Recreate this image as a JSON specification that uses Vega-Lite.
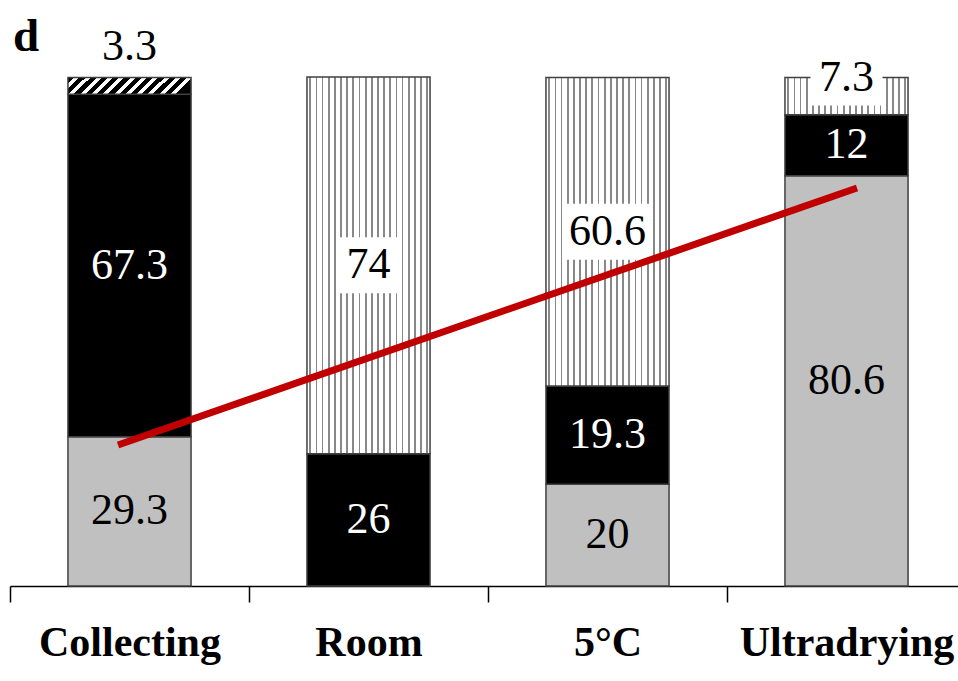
{
  "$schema": "https://vega.github.io/schema/vega-lite/v6.json",
  "width": 948,
  "height": 509,
  "autosize": {"type": "none"},
  "padding": {"left": 10, "top": 77, "right": 0, "bottom": 95},
  "background": "white",
  "config": {"view": {"stroke": null}, "font": "Liberation Serif"},
  "title": {"text": "d", "anchor": "start", "frame": "group", "orient": "top", "fontSize": 47, "font": "Liberation Serif", "fontWeight": "bold", "color": "#000", "dx": 3, "dy": 52, "offset": 16},
  "layer": [
    {
      "data": {"values": [
        {"cond": "Collecting", "kind": "gray", "value": 29.3},
        {"cond": "Collecting", "kind": "black", "value": 67.3},
        {"cond": "Collecting", "kind": "hatched", "value": 3.3},
        {"cond": "Room", "kind": "black", "value": 26},
        {"cond": "Room", "kind": "dotted", "value": 74},
        {"cond": "5°C", "kind": "gray", "value": 20},
        {"cond": "5°C", "kind": "black", "value": 19.3},
        {"cond": "5°C", "kind": "dotted", "value": 60.6},
        {"cond": "Ultradrying", "kind": "gray", "value": 80.6},
        {"cond": "Ultradrying", "kind": "black", "value": 12},
        {"cond": "Ultradrying", "kind": "dotted", "value": 7.3}
      ]},
      "transform": [
        {"calculate": "indexof(['gray','black','dotted','hatched'], datum.kind)", "as": "ord"},
        {"stack": "value", "groupby": ["cond"], "sort": [{"field": "ord", "order": "ascending"}], "as": ["y0", "y1"]},
        {"calculate": "datum.value < 5 ? datum.y1 + 6 : (datum.value < 10 ? datum.y1 : (datum.y0 + datum.y1) / 2)", "as": "ly"}
      ],
      "encoding": {
        "x": {"field": "cond", "type": "nominal", "sort": ["Collecting", "Room", "5°C", "Ultradrying"],
          "scale": {"paddingInner": 0.485, "paddingOuter": 0.2425, "range": [0, 956]},
          "axis": {"title": null, "labelAngle": 0, "domainColor": "#000", "domainWidth": 1.5, "tickColor": "#000", "tickWidth": 1.5, "tickSize": 16, "tickOffset": -119.5, "labelOffset": 119.5, "labelFont": "Liberation Serif", "labelFontSize": 42, "labelFontWeight": "bold", "labelColor": "#000", "labelPadding": 20, "labelOverlap": false, "labelBound": false, "labelFlush": false, "labelLimit": 0}}
      },
      "layer": [
        {
          "mark": {"type": "bar", "stroke": "#404040", "strokeWidth": 1.5},
          "encoding": {
            "y": {"field": "y0", "type": "quantitative", "scale": {"domain": [0, 100], "nice": false, "zero": true}, "axis": null},
            "y2": {"field": "y1"},
            "fill": {
              "condition": [
                {"test": "datum.kind === 'dotted'", "value": {"gradient": "linear", "x1": 0, "y1": 0, "x2": 1, "y2": 0, "stops": [
                  {"offset": 0, "color": "#fff"},
                  {"offset": 0.02, "color": "#fff"}, {"offset": 0.02, "color": "#888"}, {"offset": 0.034, "color": "#888"}, {"offset": 0.034, "color": "#fff"},
                  {"offset": 0.07, "color": "#fff"}, {"offset": 0.07, "color": "#888"}, {"offset": 0.084, "color": "#888"}, {"offset": 0.084, "color": "#fff"},
                  {"offset": 0.12, "color": "#fff"}, {"offset": 0.12, "color": "#888"}, {"offset": 0.134, "color": "#888"}, {"offset": 0.134, "color": "#fff"},
                  {"offset": 0.17, "color": "#fff"}, {"offset": 0.17, "color": "#888"}, {"offset": 0.184, "color": "#888"}, {"offset": 0.184, "color": "#fff"},
                  {"offset": 0.22, "color": "#fff"}, {"offset": 0.22, "color": "#888"}, {"offset": 0.234, "color": "#888"}, {"offset": 0.234, "color": "#fff"},
                  {"offset": 0.27, "color": "#fff"}, {"offset": 0.27, "color": "#888"}, {"offset": 0.284, "color": "#888"}, {"offset": 0.284, "color": "#fff"},
                  {"offset": 0.32, "color": "#fff"}, {"offset": 0.32, "color": "#888"}, {"offset": 0.334, "color": "#888"}, {"offset": 0.334, "color": "#fff"},
                  {"offset": 0.37, "color": "#fff"}, {"offset": 0.37, "color": "#888"}, {"offset": 0.384, "color": "#888"}, {"offset": 0.384, "color": "#fff"},
                  {"offset": 0.42, "color": "#fff"}, {"offset": 0.42, "color": "#888"}, {"offset": 0.434, "color": "#888"}, {"offset": 0.434, "color": "#fff"},
                  {"offset": 0.47, "color": "#fff"}, {"offset": 0.47, "color": "#888"}, {"offset": 0.484, "color": "#888"}, {"offset": 0.484, "color": "#fff"},
                  {"offset": 0.52, "color": "#fff"}, {"offset": 0.52, "color": "#888"}, {"offset": 0.534, "color": "#888"}, {"offset": 0.534, "color": "#fff"},
                  {"offset": 0.57, "color": "#fff"}, {"offset": 0.57, "color": "#888"}, {"offset": 0.584, "color": "#888"}, {"offset": 0.584, "color": "#fff"},
                  {"offset": 0.62, "color": "#fff"}, {"offset": 0.62, "color": "#888"}, {"offset": 0.634, "color": "#888"}, {"offset": 0.634, "color": "#fff"},
                  {"offset": 0.67, "color": "#fff"}, {"offset": 0.67, "color": "#888"}, {"offset": 0.684, "color": "#888"}, {"offset": 0.684, "color": "#fff"},
                  {"offset": 0.72, "color": "#fff"}, {"offset": 0.72, "color": "#888"}, {"offset": 0.734, "color": "#888"}, {"offset": 0.734, "color": "#fff"},
                  {"offset": 0.77, "color": "#fff"}, {"offset": 0.77, "color": "#888"}, {"offset": 0.784, "color": "#888"}, {"offset": 0.784, "color": "#fff"},
                  {"offset": 0.82, "color": "#fff"}, {"offset": 0.82, "color": "#888"}, {"offset": 0.834, "color": "#888"}, {"offset": 0.834, "color": "#fff"},
                  {"offset": 0.87, "color": "#fff"}, {"offset": 0.87, "color": "#888"}, {"offset": 0.884, "color": "#888"}, {"offset": 0.884, "color": "#fff"},
                  {"offset": 0.92, "color": "#fff"}, {"offset": 0.92, "color": "#888"}, {"offset": 0.934, "color": "#888"}, {"offset": 0.934, "color": "#fff"},
                  {"offset": 0.97, "color": "#fff"}, {"offset": 0.97, "color": "#888"}, {"offset": 0.984, "color": "#888"}, {"offset": 0.984, "color": "#fff"},
                  {"offset": 1, "color": "#fff"}
                ]}},
                {"test": "datum.kind === 'hatched'", "value": {"gradient": "linear", "x1": 0, "y1": 0, "x2": 1, "y2": 0.138, "stops": [
                  {"offset": 0, "color": "#000"}, {"offset": 0.05, "color": "#000"}, {"offset": 0.05, "color": "#fff"}, {"offset": 0.09, "color": "#fff"},
                  {"offset": 0.09, "color": "#000"}, {"offset": 0.14, "color": "#000"}, {"offset": 0.14, "color": "#fff"}, {"offset": 0.18, "color": "#fff"},
                  {"offset": 0.18, "color": "#000"}, {"offset": 0.23, "color": "#000"}, {"offset": 0.23, "color": "#fff"}, {"offset": 0.27, "color": "#fff"},
                  {"offset": 0.27, "color": "#000"}, {"offset": 0.32, "color": "#000"}, {"offset": 0.32, "color": "#fff"}, {"offset": 0.36, "color": "#fff"},
                  {"offset": 0.36, "color": "#000"}, {"offset": 0.41, "color": "#000"}, {"offset": 0.41, "color": "#fff"}, {"offset": 0.45, "color": "#fff"},
                  {"offset": 0.45, "color": "#000"}, {"offset": 0.5, "color": "#000"}, {"offset": 0.5, "color": "#fff"}, {"offset": 0.54, "color": "#fff"},
                  {"offset": 0.54, "color": "#000"}, {"offset": 0.59, "color": "#000"}, {"offset": 0.59, "color": "#fff"}, {"offset": 0.63, "color": "#fff"},
                  {"offset": 0.63, "color": "#000"}, {"offset": 0.68, "color": "#000"}, {"offset": 0.68, "color": "#fff"}, {"offset": 0.72, "color": "#fff"},
                  {"offset": 0.72, "color": "#000"}, {"offset": 0.77, "color": "#000"}, {"offset": 0.77, "color": "#fff"}, {"offset": 0.81, "color": "#fff"},
                  {"offset": 0.81, "color": "#000"}, {"offset": 0.86, "color": "#000"}, {"offset": 0.86, "color": "#fff"}, {"offset": 0.9, "color": "#fff"},
                  {"offset": 0.9, "color": "#000"}, {"offset": 0.95, "color": "#000"}, {"offset": 0.95, "color": "#fff"}, {"offset": 0.99, "color": "#fff"},
                  {"offset": 0.99, "color": "#000"}, {"offset": 1, "color": "#000"}
                ]}}
              ],
              "field": "kind", "type": "nominal",
              "scale": {"domain": ["gray", "black", "dotted", "hatched"], "range": ["#c0c0c0", "#000000", "#ffffff", "#ffffff"]},
              "legend": null
            }
          }
        },
        {
          "transform": [{"filter": "datum.kind === 'dotted'"}],
          "mark": {"type": "tick", "orient": "horizontal", "thickness": 56, "color": "#ffffff", "opacity": 1},
          "encoding": {
            "y": {"field": "ly", "type": "quantitative"},
            "size": {"condition": [
              {"test": "length(toString(datum.value)) >= 4", "value": 88},
              {"test": "length(toString(datum.value)) == 3", "value": 72}
            ], "value": 60}
          }
        },
        {
          "mark": {"type": "text", "font": "Liberation Serif", "fontSize": 44, "align": "center", "baseline": "middle"},
          "encoding": {
            "y": {"field": "ly", "type": "quantitative"},
            "text": {"field": "value", "type": "quantitative"},
            "color": {"condition": {"test": "datum.kind === 'black'", "value": "#ffffff"}, "value": "#000000"}
          }
        }
      ]
    },
    {
      "data": {"values": [
        {"pos": 0.452, "v": 27.7},
        {"pos": 3.544, "v": 78.2}
      ]},
      "mark": {"type": "line", "color": "#c00000", "strokeWidth": 7, "strokeCap": "butt"},
      "encoding": {
        "x": {"field": "pos", "type": "quantitative", "scale": {"domain": [0, 4], "range": [0, 956], "nice": false, "zero": false}, "axis": null},
        "y": {"field": "v", "type": "quantitative"}
      }
    }
  ],
  "resolve": {"scale": {"x": "independent"}}
}
